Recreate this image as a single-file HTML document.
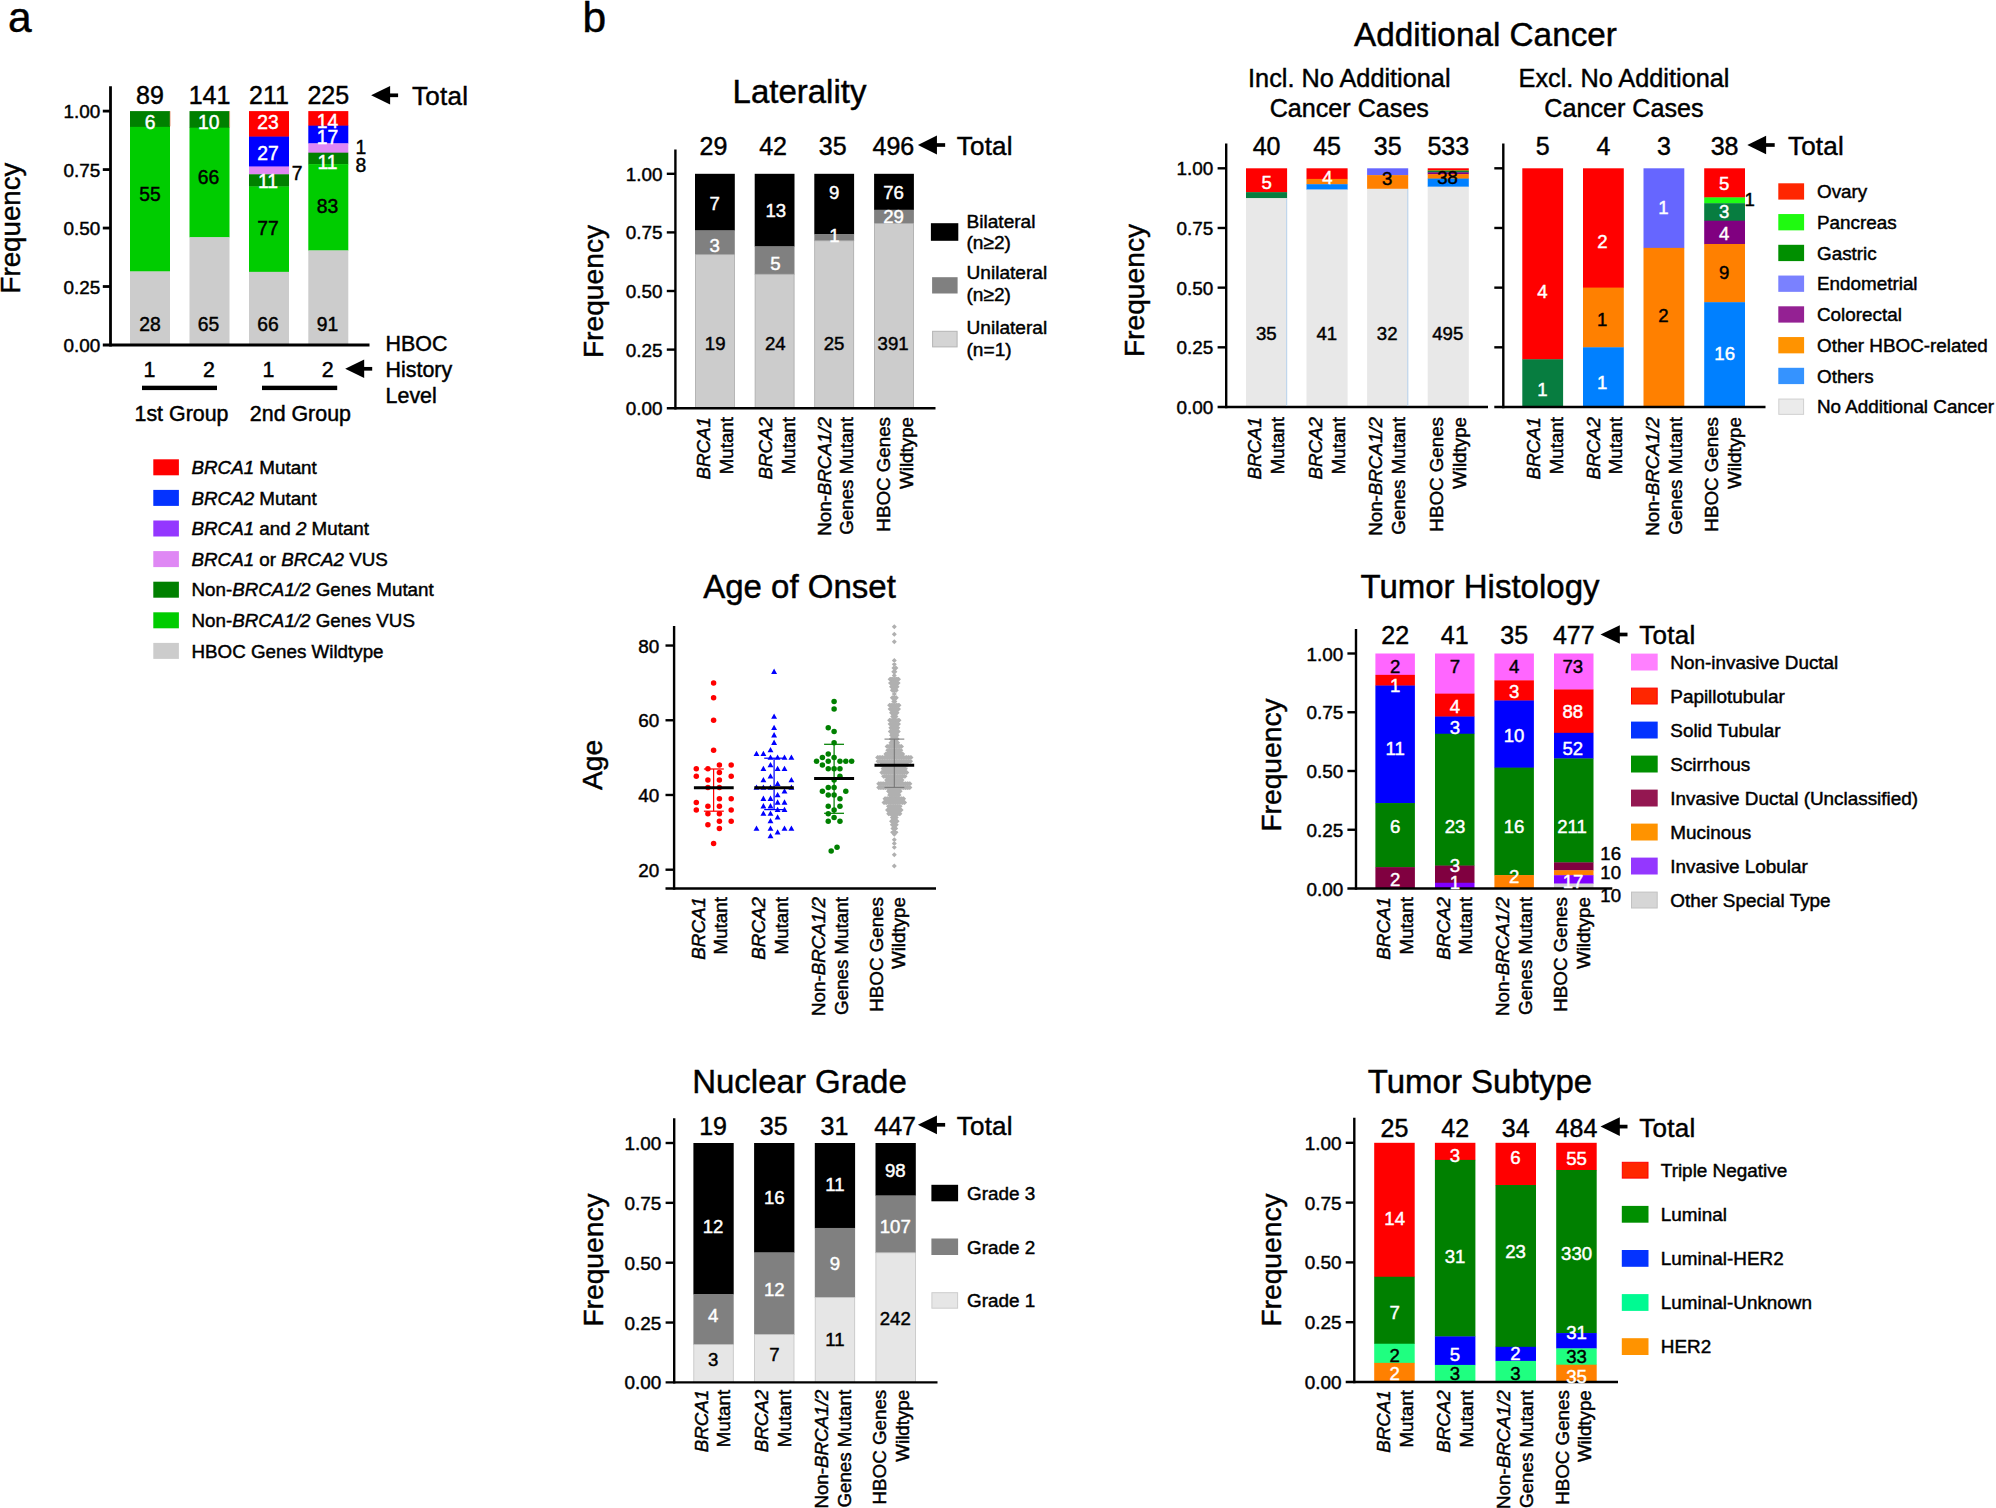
<!DOCTYPE html>
<html lang="en">
<head>
<meta charset="utf-8">
<title>HBOC gene status and clinical features</title>
<style>
html,body{margin:0;padding:0;background:#fff;}
body{width:1996px;height:1508px;overflow:hidden;}
svg{display:block;font-family:'Liberation Sans', Arial, Helvetica, sans-serif;}
text{stroke:#000;stroke-width:.45px;}
text.w{fill:#fff;stroke:#fff;}
</style>
</head>
<body>
<svg width="1996" height="1508" viewBox="0 0 1996 1508">
<rect width="1996" height="1508" fill="#fff"/>
<rect x="130" y="111.1" width="40" height="16.07" fill="#008000"/>
<rect x="130" y="126.87" width="40" height="144.84" fill="#00cc00"/>
<rect x="130" y="271.41" width="40" height="73.89" fill="#cccccc"/>
<rect x="189.5" y="111.1" width="40" height="16.89" fill="#008000"/>
<rect x="189.5" y="127.69" width="40" height="109.79" fill="#00cc00"/>
<rect x="189.5" y="237.17" width="40" height="108.13" fill="#cccccc"/>
<rect x="249" y="111.1" width="40" height="25.8" fill="#ff0000"/>
<rect x="249" y="136.6" width="40" height="30.23" fill="#0000ff"/>
<rect x="249" y="166.53" width="40" height="8.06" fill="#df88f4"/>
<rect x="249" y="174.29" width="40" height="12.49" fill="#008000"/>
<rect x="249" y="186.48" width="40" height="85.66" fill="#00cc00"/>
<rect x="249" y="271.84" width="40" height="73.46" fill="#cccccc"/>
<rect x="308.3" y="111.1" width="40" height="14.85" fill="#ff0000"/>
<rect x="308.3" y="125.65" width="40" height="17.97" fill="#0000ff"/>
<rect x="308.3" y="143.33" width="40" height="9.66" fill="#df88f4"/>
<rect x="308.3" y="152.68" width="40" height="11.74" fill="#008000"/>
<rect x="308.3" y="164.12" width="40" height="86.58" fill="#00cc00"/>
<rect x="308.3" y="250.4" width="40" height="94.9" fill="#cccccc"/>
<rect x="695" y="173.8" width="39.8" height="56.88" fill="#000000"/>
<rect x="695" y="230.38" width="39.8" height="24.55" fill="#808080"/>
<rect x="695.4" y="254.63" width="39" height="153.57" fill="#cccccc" stroke="#a9a9a9" stroke-width="0.8"/>
<rect x="754.7" y="173.8" width="39.8" height="72.85" fill="#000000"/>
<rect x="754.7" y="246.35" width="39.8" height="28.2" fill="#808080"/>
<rect x="755.1" y="274.26" width="39" height="133.94" fill="#cccccc" stroke="#a9a9a9" stroke-width="0.8"/>
<rect x="814.3" y="173.8" width="39.8" height="60.57" fill="#000000"/>
<rect x="814.3" y="234.07" width="39.8" height="7" fill="#808080"/>
<rect x="814.7" y="240.77" width="39" height="167.43" fill="#cccccc" stroke="#a9a9a9" stroke-width="0.8"/>
<rect x="874.1" y="173.8" width="39.8" height="36.22" fill="#000000"/>
<rect x="874.1" y="209.72" width="39.8" height="14" fill="#808080"/>
<rect x="874.5" y="223.42" width="39" height="184.78" fill="#cccccc" stroke="#a9a9a9" stroke-width="0.8"/>
<rect x="1246" y="168.3" width="41.1" height="24.17" fill="#ff0000"/>
<rect x="1246" y="192.17" width="41.1" height="6.27" fill="#077d40"/>
<rect x="1246" y="198.14" width="41.1" height="209.16" fill="#e8e8e8"/>
<rect x="1306.5" y="168.3" width="41.1" height="10.91" fill="#ff0000"/>
<rect x="1306.5" y="178.91" width="41.1" height="5.6" fill="#ff8000"/>
<rect x="1306.5" y="184.21" width="41.1" height="5.6" fill="#0080ff"/>
<rect x="1306.5" y="189.52" width="41.1" height="217.78" fill="#e8e8e8"/>
<rect x="1367.1" y="168.3" width="41.1" height="7.12" fill="#6666ff"/>
<rect x="1367.1" y="175.12" width="41.1" height="13.94" fill="#ff8000"/>
<rect x="1367.1" y="188.76" width="41.1" height="218.54" fill="#e8e8e8"/>
<rect x="1427.7" y="168.3" width="41.1" height="2.54" fill="#ff0000"/>
<rect x="1427.7" y="170.54" width="41.1" height="0.75" fill="#1ffd14"/>
<rect x="1427.7" y="170.99" width="41.1" height="1.64" fill="#077d40"/>
<rect x="1427.7" y="172.33" width="41.1" height="2.09" fill="#800080"/>
<rect x="1427.7" y="174.12" width="41.1" height="4.78" fill="#ff8000"/>
<rect x="1427.7" y="178.6" width="41.1" height="8.36" fill="#0080ff"/>
<rect x="1427.7" y="186.66" width="41.1" height="220.64" fill="#e8e8e8"/>
<rect x="1522.3" y="168.3" width="40.8" height="191.26" fill="#ff0000"/>
<rect x="1522.3" y="359.26" width="40.8" height="48.04" fill="#077d40"/>
<rect x="1583" y="168.3" width="40.8" height="119.65" fill="#ff0000"/>
<rect x="1583" y="287.65" width="40.8" height="59.97" fill="#ff8000"/>
<rect x="1583" y="347.32" width="40.8" height="59.97" fill="#0080ff"/>
<rect x="1643.5" y="168.3" width="40.8" height="79.87" fill="#6666ff"/>
<rect x="1643.5" y="247.87" width="40.8" height="159.43" fill="#ff8000"/>
<rect x="1704.2" y="168.3" width="40.8" height="29.41" fill="#ff0000"/>
<rect x="1704.2" y="197.41" width="40.8" height="6.12" fill="#1ffd14"/>
<rect x="1704.2" y="203.23" width="40.8" height="17.77" fill="#077d40"/>
<rect x="1704.2" y="220.7" width="40.8" height="23.59" fill="#800080"/>
<rect x="1704.2" y="243.99" width="40.8" height="58.52" fill="#ff8000"/>
<rect x="1704.2" y="302.2" width="40.8" height="105.1" fill="#0080ff"/>
<rect x="1375.4" y="653.5" width="39.5" height="21.66" fill="#ff66ff"/>
<rect x="1375.4" y="674.86" width="39.5" height="10.98" fill="#ff0000"/>
<rect x="1375.4" y="685.55" width="39.5" height="117.8" fill="#0000ff"/>
<rect x="1375.4" y="803.05" width="39.5" height="64.39" fill="#008000"/>
<rect x="1375.4" y="867.14" width="39.5" height="21.66" fill="#800040"/>
<rect x="1435" y="653.5" width="39.5" height="40.42" fill="#ff66ff"/>
<rect x="1435" y="693.62" width="39.5" height="23.23" fill="#ff0000"/>
<rect x="1435" y="716.55" width="39.5" height="17.5" fill="#0000ff"/>
<rect x="1435" y="733.74" width="39.5" height="132.13" fill="#008000"/>
<rect x="1435" y="865.57" width="39.5" height="17.5" fill="#800040"/>
<rect x="1435" y="882.77" width="39.5" height="6.03" fill="#8000ff"/>
<rect x="1494.4" y="653.5" width="39.5" height="27.16" fill="#ff66ff"/>
<rect x="1494.4" y="680.36" width="39.5" height="20.44" fill="#ff0000"/>
<rect x="1494.4" y="700.5" width="39.5" height="67.44" fill="#0000ff"/>
<rect x="1494.4" y="767.64" width="39.5" height="107.73" fill="#008000"/>
<rect x="1494.4" y="875.07" width="39.5" height="13.73" fill="#ff8000"/>
<rect x="1554" y="653.5" width="39.5" height="36.26" fill="#ff66ff"/>
<rect x="1554" y="689.46" width="39.5" height="43.65" fill="#ff0000"/>
<rect x="1554" y="732.82" width="39.5" height="25.92" fill="#0000ff"/>
<rect x="1554" y="758.44" width="39.5" height="104.25" fill="#008000"/>
<rect x="1554" y="862.39" width="39.5" height="8.18" fill="#800040"/>
<rect x="1554" y="870.27" width="39.5" height="5.23" fill="#ff8000"/>
<rect x="1554" y="875.2" width="39.5" height="8.68" fill="#8000ff"/>
<rect x="1554" y="883.57" width="39.5" height="5.23" fill="#d2d2d2"/>
<rect x="693.4" y="1143" width="40.3" height="151.5" fill="#000000"/>
<rect x="693.4" y="1294.2" width="40.3" height="50.7" fill="#808080"/>
<rect x="693.8" y="1344.6" width="39.5" height="37.8" fill="#e6e6e6" stroke="#c2c2c2" stroke-width="0.8"/>
<rect x="754.1" y="1143" width="40.3" height="109.74" fill="#000000"/>
<rect x="754.1" y="1252.44" width="40.3" height="82.38" fill="#808080"/>
<rect x="754.5" y="1334.52" width="39.5" height="47.88" fill="#e6e6e6" stroke="#c2c2c2" stroke-width="0.8"/>
<rect x="814.8" y="1143" width="40.3" height="85.25" fill="#000000"/>
<rect x="814.8" y="1227.95" width="40.3" height="69.8" fill="#808080"/>
<rect x="815.2" y="1297.45" width="39.5" height="84.95" fill="#e6e6e6" stroke="#c2c2c2" stroke-width="0.8"/>
<rect x="875.5" y="1143" width="40.3" height="52.79" fill="#000000"/>
<rect x="875.5" y="1195.49" width="40.3" height="57.61" fill="#808080"/>
<rect x="875.9" y="1252.79" width="39.5" height="129.61" fill="#e6e6e6" stroke="#c2c2c2" stroke-width="0.8"/>
<rect x="1374.2" y="1142.8" width="40.5" height="134.25" fill="#ff0000"/>
<rect x="1374.2" y="1276.75" width="40.5" height="67.28" fill="#008000"/>
<rect x="1374.2" y="1343.73" width="40.5" height="19.44" fill="#1fff80"/>
<rect x="1374.2" y="1362.86" width="40.5" height="19.44" fill="#ff8000"/>
<rect x="1434.9" y="1142.8" width="40.5" height="17.39" fill="#ff0000"/>
<rect x="1434.9" y="1159.89" width="40.5" height="176.85" fill="#008000"/>
<rect x="1434.9" y="1336.44" width="40.5" height="28.78" fill="#0000ff"/>
<rect x="1434.9" y="1364.91" width="40.5" height="17.39" fill="#1fff80"/>
<rect x="1495.5" y="1142.8" width="40.5" height="42.51" fill="#ff0000"/>
<rect x="1495.5" y="1185.01" width="40.5" height="162.11" fill="#008000"/>
<rect x="1495.5" y="1346.82" width="40.5" height="14.37" fill="#0000ff"/>
<rect x="1495.5" y="1360.89" width="40.5" height="21.41" fill="#1fff80"/>
<rect x="1556.2" y="1142.8" width="40.5" height="27.48" fill="#ff0000"/>
<rect x="1556.2" y="1169.98" width="40.5" height="163.39" fill="#008000"/>
<rect x="1556.2" y="1333.07" width="40.5" height="15.62" fill="#0000ff"/>
<rect x="1556.2" y="1348.39" width="40.5" height="16.61" fill="#1fff80"/>
<rect x="1556.2" y="1364.7" width="40.5" height="17.6" fill="#ff8000"/>
<line x1="110.5" y1="86.2" x2="110.5" y2="346.4" stroke="#000" stroke-width="2.8"/>
<line x1="102.8" y1="345" x2="369.5" y2="345" stroke="#000" stroke-width="2.8"/>
<line x1="102.8" y1="111.1" x2="110.5" y2="111.1" stroke="#000" stroke-width="2.8"/>
<line x1="102.8" y1="169.57" x2="110.5" y2="169.57" stroke="#000" stroke-width="2.8"/>
<line x1="102.8" y1="228.05" x2="110.5" y2="228.05" stroke="#000" stroke-width="2.8"/>
<line x1="102.8" y1="286.52" x2="110.5" y2="286.52" stroke="#000" stroke-width="2.8"/>
<line x1="675.4" y1="149.4" x2="675.4" y2="409.4" stroke="#000" stroke-width="2.4"/>
<line x1="666.8" y1="408.2" x2="935.5" y2="408.2" stroke="#000" stroke-width="2.4"/>
<line x1="666.8" y1="173.8" x2="675.4" y2="173.8" stroke="#000" stroke-width="2.4"/>
<line x1="666.8" y1="232.4" x2="675.4" y2="232.4" stroke="#000" stroke-width="2.4"/>
<line x1="666.8" y1="291" x2="675.4" y2="291" stroke="#000" stroke-width="2.4"/>
<line x1="666.8" y1="349.6" x2="675.4" y2="349.6" stroke="#000" stroke-width="2.4"/>
<line x1="1226.2" y1="143.4" x2="1226.2" y2="408.2" stroke="#000" stroke-width="2.4"/>
<line x1="1217.6" y1="407" x2="1488" y2="407" stroke="#000" stroke-width="2.4"/>
<line x1="1217.6" y1="168.3" x2="1226.2" y2="168.3" stroke="#000" stroke-width="2.4"/>
<line x1="1217.6" y1="227.98" x2="1226.2" y2="227.98" stroke="#000" stroke-width="2.4"/>
<line x1="1217.6" y1="287.65" x2="1226.2" y2="287.65" stroke="#000" stroke-width="2.4"/>
<line x1="1217.6" y1="347.32" x2="1226.2" y2="347.32" stroke="#000" stroke-width="2.4"/>
<line x1="1503.3" y1="143.4" x2="1503.3" y2="408.2" stroke="#000" stroke-width="2.4"/>
<line x1="1494.3" y1="407" x2="1765.5" y2="407" stroke="#000" stroke-width="2.4"/>
<line x1="1494.3" y1="168.3" x2="1503.3" y2="168.3" stroke="#000" stroke-width="2.4"/>
<line x1="1494.3" y1="227.98" x2="1503.3" y2="227.98" stroke="#000" stroke-width="2.4"/>
<line x1="1494.3" y1="287.65" x2="1503.3" y2="287.65" stroke="#000" stroke-width="2.4"/>
<line x1="1494.3" y1="347.32" x2="1503.3" y2="347.32" stroke="#000" stroke-width="2.4"/>
<line x1="674.1" y1="625.9" x2="674.1" y2="889.7" stroke="#000" stroke-width="2.4"/>
<line x1="665.5" y1="888.5" x2="936" y2="888.5" stroke="#000" stroke-width="2.4"/>
<line x1="665.5" y1="645.54" x2="674.1" y2="645.54" stroke="#000" stroke-width="2.4"/>
<line x1="665.5" y1="720.26" x2="674.1" y2="720.26" stroke="#000" stroke-width="2.4"/>
<line x1="665.5" y1="794.98" x2="674.1" y2="794.98" stroke="#000" stroke-width="2.4"/>
<line x1="665.5" y1="869.7" x2="674.1" y2="869.7" stroke="#000" stroke-width="2.4"/>
<line x1="1356" y1="629" x2="1356" y2="889.7" stroke="#000" stroke-width="2.4"/>
<line x1="1347.4" y1="888.5" x2="1612.3" y2="888.5" stroke="#000" stroke-width="2.4"/>
<line x1="1347.4" y1="653.5" x2="1356" y2="653.5" stroke="#000" stroke-width="2.4"/>
<line x1="1347.4" y1="712.25" x2="1356" y2="712.25" stroke="#000" stroke-width="2.4"/>
<line x1="1347.4" y1="771" x2="1356" y2="771" stroke="#000" stroke-width="2.4"/>
<line x1="1347.4" y1="829.75" x2="1356" y2="829.75" stroke="#000" stroke-width="2.4"/>
<line x1="674.2" y1="1118.2" x2="674.2" y2="1383.6" stroke="#000" stroke-width="2.4"/>
<line x1="665.6" y1="1382.4" x2="937.5" y2="1382.4" stroke="#000" stroke-width="2.4"/>
<line x1="665.6" y1="1143" x2="674.2" y2="1143" stroke="#000" stroke-width="2.4"/>
<line x1="665.6" y1="1202.85" x2="674.2" y2="1202.85" stroke="#000" stroke-width="2.4"/>
<line x1="665.6" y1="1262.7" x2="674.2" y2="1262.7" stroke="#000" stroke-width="2.4"/>
<line x1="665.6" y1="1322.55" x2="674.2" y2="1322.55" stroke="#000" stroke-width="2.4"/>
<line x1="1354.3" y1="1117.7" x2="1354.3" y2="1383.2" stroke="#000" stroke-width="2.4"/>
<line x1="1345.7" y1="1382" x2="1618" y2="1382" stroke="#000" stroke-width="2.4"/>
<line x1="1345.7" y1="1142.8" x2="1354.3" y2="1142.8" stroke="#000" stroke-width="2.4"/>
<line x1="1345.7" y1="1202.6" x2="1354.3" y2="1202.6" stroke="#000" stroke-width="2.4"/>
<line x1="1345.7" y1="1262.4" x2="1354.3" y2="1262.4" stroke="#000" stroke-width="2.4"/>
<line x1="1345.7" y1="1322.2" x2="1354.3" y2="1322.2" stroke="#000" stroke-width="2.4"/>
<text x="8" y="31.5" font-size="42.5">a</text>
<text x="582.5" y="31.5" font-size="42.5">b</text>
<text x="100.4" y="118.19" font-size="18.9" text-anchor="end">1.00</text>
<text x="100.4" y="176.66" font-size="18.9" text-anchor="end">0.75</text>
<text x="100.4" y="235.14" font-size="18.9" text-anchor="end">0.50</text>
<text x="100.4" y="293.61" font-size="18.9" text-anchor="end">0.25</text>
<text x="100.4" y="352.09" font-size="18.9" text-anchor="end">0.00</text>
<text x="150" y="104" font-size="25" text-anchor="middle">89</text>
<text x="209.5" y="104" font-size="25" text-anchor="middle">141</text>
<text x="269" y="104" font-size="25" text-anchor="middle">211</text>
<text x="328.3" y="104" font-size="25" text-anchor="middle">225</text>
<text x="150.1" y="128.69" font-size="19.3" text-anchor="middle" class="w">6</text>
<text x="150.1" y="201.29" font-size="19.3" text-anchor="middle">55</text>
<text x="150.1" y="331.19" font-size="19.3" text-anchor="middle">28</text>
<text x="208.8" y="128.69" font-size="19.3" text-anchor="middle" class="w">10</text>
<text x="208.6" y="184.39" font-size="19.3" text-anchor="middle">66</text>
<text x="208.6" y="331.19" font-size="19.3" text-anchor="middle">65</text>
<text x="268" y="128.69" font-size="19.3" text-anchor="middle" class="w">23</text>
<text x="268" y="159.59" font-size="19.3" text-anchor="middle" class="w">27</text>
<text x="268" y="188.49" font-size="19.3" text-anchor="middle" class="w">11</text>
<text x="268" y="235.49" font-size="19.3" text-anchor="middle">77</text>
<text x="268" y="331.19" font-size="19.3" text-anchor="middle">66</text>
<text x="297.2" y="179.99" font-size="19.3" text-anchor="middle">7</text>
<text x="327.5" y="128.39" font-size="19.3" text-anchor="middle" class="w">14</text>
<text x="327.5" y="143.59" font-size="19.3" text-anchor="middle" class="w">17</text>
<text x="327.5" y="169.39" font-size="19.3" text-anchor="middle" class="w">11</text>
<text x="327.5" y="212.69" font-size="19.3" text-anchor="middle">83</text>
<text x="327.5" y="331.19" font-size="19.3" text-anchor="middle">91</text>
<text x="360.9" y="153.59" font-size="19.3" text-anchor="middle">1</text>
<text x="360.9" y="171.79" font-size="19.3" text-anchor="middle">8</text>
<line x1="170.2" y1="111.2" x2="170.2" y2="126.3" stroke="#e9967a" stroke-width="0.7"/>
<line x1="229.6" y1="111.2" x2="229.6" y2="127.3" stroke="#e9967a" stroke-width="0.7"/>
<polygon points="371.1,95.3 390.1,86 390.1,104.6" fill="#000"/>
<line x1="389.1" y1="95.3" x2="398.1" y2="95.3" stroke="#000" stroke-width="3.7"/>
<text x="412" y="104.6" font-size="26" letter-spacing="0.25">Total</text>
<text x="20.3" y="228" font-size="27.7" text-anchor="middle" transform="rotate(-90 20.3 228)">Frequency</text>
<text x="149.5" y="376.5" font-size="21.4" text-anchor="middle">1</text>
<text x="209" y="376.5" font-size="21.4" text-anchor="middle">2</text>
<text x="268.5" y="376.5" font-size="21.4" text-anchor="middle">1</text>
<text x="327.8" y="376.5" font-size="21.4" text-anchor="middle">2</text>
<rect x="142" y="385.7" width="75" height="4.4" fill="#000"/>
<rect x="262" y="385.7" width="75.2" height="4.4" fill="#000"/>
<text x="181.5" y="421.2" font-size="21.4" text-anchor="middle">1st Group</text>
<text x="300.4" y="421.2" font-size="21.4" text-anchor="middle">2nd Group</text>
<text x="385.6" y="351" font-size="21.4">HBOC</text>
<text x="385.6" y="376.5" font-size="21.4">History</text>
<text x="385.6" y="403.2" font-size="21.4">Level</text>
<polygon points="345.2,368.8 364.2,359.5 364.2,378.1" fill="#000"/>
<line x1="363.2" y1="368.8" x2="372.2" y2="368.8" stroke="#000" stroke-width="3.7"/>
<rect x="153.3" y="459.3" width="25.6" height="16" fill="#ff0000"/>
<text x="191.5" y="474.03" font-size="18.8"><tspan font-style="italic">BRCA1</tspan> Mutant</text>
<rect x="153.3" y="489.9" width="25.6" height="16" fill="#0433ff"/>
<text x="191.5" y="504.63" font-size="18.8"><tspan font-style="italic">BRCA2</tspan> Mutant</text>
<rect x="153.3" y="520.5" width="25.6" height="16" fill="#9437ff"/>
<text x="191.5" y="535.23" font-size="18.8"><tspan font-style="italic">BRCA1</tspan> and <tspan font-style="italic">2</tspan> Mutant</text>
<rect x="153.3" y="551.1" width="25.6" height="16" fill="#df88f4"/>
<text x="191.5" y="565.83" font-size="18.8"><tspan font-style="italic">BRCA1</tspan> or <tspan font-style="italic">BRCA2</tspan> VUS</text>
<rect x="153.3" y="581.7" width="25.6" height="16" fill="#008000"/>
<text x="191.5" y="596.43" font-size="18.8">Non-<tspan font-style="italic">BRCA1/2</tspan> Genes Mutant</text>
<rect x="153.3" y="612.3" width="25.6" height="16" fill="#00cc00"/>
<text x="191.5" y="627.03" font-size="18.8">Non-<tspan font-style="italic">BRCA1/2</tspan> Genes VUS</text>
<rect x="153.3" y="642.9" width="25.6" height="16" fill="#cccccc"/>
<text x="191.5" y="657.63" font-size="18.8">HBOC Genes Wildtype</text>
<text x="799.5" y="102.5" font-size="33" text-anchor="middle">Laterality</text>
<text x="662.6" y="180.89" font-size="18.9" text-anchor="end">1.00</text>
<text x="662.6" y="239.49" font-size="18.9" text-anchor="end">0.75</text>
<text x="662.6" y="298.09" font-size="18.9" text-anchor="end">0.50</text>
<text x="662.6" y="356.69" font-size="18.9" text-anchor="end">0.25</text>
<text x="662.6" y="415.29" font-size="18.9" text-anchor="end">0.00</text>
<text x="713.4" y="154.6" font-size="25" text-anchor="middle">29</text>
<text x="773.1" y="154.6" font-size="25" text-anchor="middle">42</text>
<text x="832.7" y="154.6" font-size="25" text-anchor="middle">35</text>
<text x="893.4" y="154.6" font-size="25" text-anchor="middle">496</text>
<text x="714.6" y="210.14" font-size="18.6" text-anchor="middle" class="w">7</text>
<text x="714.6" y="251.84" font-size="18.6" text-anchor="middle" class="w">3</text>
<text x="715.2" y="349.94" font-size="18.6" text-anchor="middle">19</text>
<text x="775.8" y="216.94" font-size="18.6" text-anchor="middle" class="w">13</text>
<text x="775.4" y="269.64" font-size="18.6" text-anchor="middle" class="w">5</text>
<text x="775.3" y="349.94" font-size="18.6" text-anchor="middle">24</text>
<text x="834.1" y="199.34" font-size="18.6" text-anchor="middle" class="w">9</text>
<text x="834.4" y="241.64" font-size="18.6" text-anchor="middle" class="w">1</text>
<text x="834.1" y="349.94" font-size="18.6" text-anchor="middle">25</text>
<text x="893.5" y="199.44" font-size="18.6" text-anchor="middle" class="w">76</text>
<text x="893.5" y="223.34" font-size="18.6" text-anchor="middle" class="w">29</text>
<text x="893.1" y="349.94" font-size="18.6" text-anchor="middle">391</text>
<polygon points="917.9,145 936.95,135.6 936.95,154.4" fill="#000"/>
<line x1="935.95" y1="145" x2="945.15" y2="145" stroke="#000" stroke-width="3.7"/>
<text x="956.7" y="154.8" font-size="26" letter-spacing="0.25">Total</text>
<text x="603" y="291.5" font-size="28.2" text-anchor="middle" transform="rotate(-90 603 291.5)">Frequency</text>
<text x="710.2" y="417" font-size="18.75" text-anchor="end" transform="rotate(-90 710.2 417)"><tspan font-style="italic">BRCA1</tspan></text>
<text x="732.8" y="417" font-size="18.75" text-anchor="end" transform="rotate(-90 732.8 417)">Mutant</text>
<text x="771.8" y="417" font-size="18.75" text-anchor="end" transform="rotate(-90 771.8 417)"><tspan font-style="italic">BRCA2</tspan></text>
<text x="794.6" y="417" font-size="18.75" text-anchor="end" transform="rotate(-90 794.6 417)">Mutant</text>
<text x="830.8" y="417" font-size="18.75" text-anchor="end" transform="rotate(-90 830.8 417)">Non-<tspan font-style="italic">BRCA1/2</tspan></text>
<text x="853.2" y="417" font-size="18.75" text-anchor="end" transform="rotate(-90 853.2 417)">Genes Mutant</text>
<text x="889.7" y="417" font-size="18.75" text-anchor="end" transform="rotate(-90 889.7 417)">HBOC Genes</text>
<text x="912.5" y="417" font-size="18.75" text-anchor="end" transform="rotate(-90 912.5 417)">Wildtype</text>
<rect x="930.9" y="223.2" width="27.4" height="17.6" fill="#000000"/>
<text x="966.5" y="227.6" font-size="19.1">Bilateral</text>
<text x="966.5" y="249.3" font-size="19.1">(n≥2)</text>
<rect x="932.1" y="277.2" width="25.5" height="16.3" fill="#808080"/>
<text x="966.5" y="278.7" font-size="19.1">Unilateral</text>
<text x="966.5" y="300.7" font-size="19.1">(n≥2)</text>
<rect x="932.6" y="331.3" width="24.5" height="15.6" fill="#d4d4d4" stroke="#b4b4b4" stroke-width="1"/>
<text x="966.5" y="334.2" font-size="19.1">Unilateral</text>
<text x="966.5" y="356.1" font-size="19.1">(n=1)</text>
<text x="1485.5" y="45.5" font-size="33.3" text-anchor="middle">Additional Cancer</text>
<text x="1349.3" y="86.5" font-size="25.3" text-anchor="middle">Incl. No Additional</text>
<text x="1349.3" y="116.5" font-size="25.15" text-anchor="middle">Cancer Cases</text>
<text x="1624" y="86.6" font-size="25.3" text-anchor="middle">Excl. No Additional</text>
<text x="1624" y="116.6" font-size="25.15" text-anchor="middle">Cancer Cases</text>
<text x="1213.4" y="175.39" font-size="18.9" text-anchor="end">1.00</text>
<text x="1213.4" y="235.06" font-size="18.9" text-anchor="end">0.75</text>
<text x="1213.4" y="294.74" font-size="18.9" text-anchor="end">0.50</text>
<text x="1213.4" y="354.41" font-size="18.9" text-anchor="end">0.25</text>
<text x="1213.4" y="414.09" font-size="18.9" text-anchor="end">0.00</text>
<line x1="1286.7" y1="198.5" x2="1286.7" y2="406" stroke="#a9cbee" stroke-width="0.8"/>
<line x1="1407.8" y1="189" x2="1407.8" y2="406" stroke="#a9cbee" stroke-width="0.8"/>
<text x="1266.55" y="155" font-size="25" text-anchor="middle">40</text>
<text x="1327.05" y="155" font-size="25" text-anchor="middle">45</text>
<text x="1387.65" y="155" font-size="25" text-anchor="middle">35</text>
<text x="1448.25" y="155" font-size="25" text-anchor="middle">533</text>
<text x="1266.7" y="188.94" font-size="18.6" text-anchor="middle" class="w">5</text>
<text x="1327.5" y="183.74" font-size="18.6" text-anchor="middle" class="w">4</text>
<text x="1387.2" y="184.54" font-size="18.6" text-anchor="middle">3</text>
<text x="1447.6" y="183.84" font-size="18.6" text-anchor="middle">38</text>
<text x="1266.3" y="339.84" font-size="18.6" text-anchor="middle">35</text>
<text x="1326.8" y="339.84" font-size="18.6" text-anchor="middle">41</text>
<text x="1387.2" y="339.84" font-size="18.6" text-anchor="middle">32</text>
<text x="1447.8" y="339.84" font-size="18.6" text-anchor="middle">495</text>
<text x="1144" y="290.5" font-size="28.2" text-anchor="middle" transform="rotate(-90 1144 290.5)">Frequency</text>
<text x="1261.3" y="417" font-size="18.75" text-anchor="end" transform="rotate(-90 1261.3 417)"><tspan font-style="italic">BRCA1</tspan></text>
<text x="1283.7" y="417" font-size="18.75" text-anchor="end" transform="rotate(-90 1283.7 417)">Mutant</text>
<text x="1321.8" y="417" font-size="18.75" text-anchor="end" transform="rotate(-90 1321.8 417)"><tspan font-style="italic">BRCA2</tspan></text>
<text x="1344.6" y="417" font-size="18.75" text-anchor="end" transform="rotate(-90 1344.6 417)">Mutant</text>
<text x="1382.4" y="417" font-size="18.75" text-anchor="end" transform="rotate(-90 1382.4 417)">Non-<tspan font-style="italic">BRCA1/2</tspan></text>
<text x="1405.2" y="417" font-size="18.75" text-anchor="end" transform="rotate(-90 1405.2 417)">Genes Mutant</text>
<text x="1443" y="417" font-size="18.75" text-anchor="end" transform="rotate(-90 1443 417)">HBOC Genes</text>
<text x="1465.5" y="417" font-size="18.75" text-anchor="end" transform="rotate(-90 1465.5 417)">Wildtype</text>
<text x="1542.7" y="155" font-size="25" text-anchor="middle">5</text>
<text x="1603.4" y="155" font-size="25" text-anchor="middle">4</text>
<text x="1663.9" y="155" font-size="25" text-anchor="middle">3</text>
<text x="1724.6" y="155" font-size="25" text-anchor="middle">38</text>
<text x="1542.4" y="298.44" font-size="18.6" text-anchor="middle" class="w">4</text>
<text x="1542.4" y="395.74" font-size="18.6" text-anchor="middle" class="w">1</text>
<text x="1602.4" y="248.04" font-size="18.6" text-anchor="middle" class="w">2</text>
<text x="1602.2" y="325.94" font-size="18.6" text-anchor="middle">1</text>
<text x="1602.2" y="388.94" font-size="18.6" text-anchor="middle" class="w">1</text>
<text x="1663.4" y="213.84" font-size="18.6" text-anchor="middle" class="w">1</text>
<text x="1663.4" y="321.84" font-size="18.6" text-anchor="middle">2</text>
<text x="1724.2" y="189.54" font-size="18.6" text-anchor="middle" class="w">5</text>
<text x="1724.2" y="218.04" font-size="18.6" text-anchor="middle" class="w">3</text>
<text x="1724.2" y="239.74" font-size="18.6" text-anchor="middle" class="w">4</text>
<text x="1724.2" y="279.34" font-size="18.6" text-anchor="middle">9</text>
<text x="1724.7" y="359.64" font-size="18.6" text-anchor="middle" class="w">16</text>
<text x="1749.6" y="205.64" font-size="18.6" text-anchor="middle">1</text>
<polygon points="1747.3,145 1766.1,135.7 1766.1,154.3" fill="#000"/>
<line x1="1765.1" y1="145" x2="1774.7" y2="145" stroke="#000" stroke-width="3.7"/>
<text x="1787.9" y="154.7" font-size="26" letter-spacing="0.25">Total</text>
<text x="1540.2" y="417" font-size="18.75" text-anchor="end" transform="rotate(-90 1540.2 417)"><tspan font-style="italic">BRCA1</tspan></text>
<text x="1562.8" y="417" font-size="18.75" text-anchor="end" transform="rotate(-90 1562.8 417)">Mutant</text>
<text x="1599.6" y="417" font-size="18.75" text-anchor="end" transform="rotate(-90 1599.6 417)"><tspan font-style="italic">BRCA2</tspan></text>
<text x="1622" y="417" font-size="18.75" text-anchor="end" transform="rotate(-90 1622 417)">Mutant</text>
<text x="1658.9" y="417" font-size="18.75" text-anchor="end" transform="rotate(-90 1658.9 417)">Non-<tspan font-style="italic">BRCA1/2</tspan></text>
<text x="1681.7" y="417" font-size="18.75" text-anchor="end" transform="rotate(-90 1681.7 417)">Genes Mutant</text>
<text x="1718.4" y="417" font-size="18.75" text-anchor="end" transform="rotate(-90 1718.4 417)">HBOC Genes</text>
<text x="1741.2" y="417" font-size="18.75" text-anchor="end" transform="rotate(-90 1741.2 417)">Wildtype</text>
<rect x="1778.3" y="183.3" width="25.8" height="16.3" fill="#ff2600"/>
<text x="1817" y="198.2" font-size="18.85">Ovary</text>
<rect x="1778.3" y="214.05" width="25.8" height="16.3" fill="#1ffa10"/>
<text x="1817" y="228.95" font-size="18.85">Pancreas</text>
<rect x="1778.3" y="244.8" width="25.8" height="16.3" fill="#008f00"/>
<text x="1817" y="259.7" font-size="18.85">Gastric</text>
<rect x="1778.3" y="275.55" width="25.8" height="16.3" fill="#7a81ff"/>
<text x="1817" y="290.45" font-size="18.85">Endometrial</text>
<rect x="1778.3" y="306.3" width="25.8" height="16.3" fill="#942193"/>
<text x="1817" y="321.2" font-size="18.85">Colorectal</text>
<rect x="1778.3" y="337.05" width="25.8" height="16.3" fill="#ff9300"/>
<text x="1817" y="351.95" font-size="18.85">Other HBOC-related</text>
<rect x="1778.3" y="367.8" width="25.8" height="16.3" fill="#3593ff"/>
<text x="1817" y="382.7" font-size="18.85">Others</text>
<rect x="1778.8" y="399.05" width="24.8" height="15.3" fill="#ebebeb" stroke="#d0d0d0" stroke-width="1"/>
<text x="1817" y="413.45" font-size="18.85">No Additional Cancer</text>
<text x="799.5" y="598" font-size="33" text-anchor="middle">Age of Onset</text>
<text x="659.2" y="652.63" font-size="18.9" text-anchor="end">80</text>
<text x="659.2" y="727.35" font-size="18.9" text-anchor="end">60</text>
<text x="659.2" y="802.07" font-size="18.9" text-anchor="end">40</text>
<text x="659.2" y="876.79" font-size="18.9" text-anchor="end">20</text>
<text x="602" y="765" font-size="28.2" text-anchor="middle" transform="rotate(-90 602 765)">Age</text>
<rect x="890.1" y="677.21" width="8.4" height="3.9" fill="#b0b0b0"/>
<rect x="890.5" y="680.95" width="7.6" height="3.9" fill="#b0b0b0"/>
<rect x="891.5" y="684.69" width="5.6" height="3.9" fill="#b0b0b0"/>
<rect x="892.3" y="688.42" width="4" height="3.9" fill="#b0b0b0"/>
<rect x="892.3" y="695.89" width="4" height="3.9" fill="#b0b0b0"/>
<rect x="889.6" y="703.37" width="9.4" height="3.9" fill="#b0b0b0"/>
<rect x="890.1" y="707.1" width="8.4" height="3.9" fill="#b0b0b0"/>
<rect x="891.5" y="710.84" width="5.6" height="3.9" fill="#b0b0b0"/>
<rect x="892.6" y="714.57" width="3.4" height="3.9" fill="#b0b0b0"/>
<rect x="889.6" y="718.31" width="9.4" height="3.9" fill="#b0b0b0"/>
<rect x="890.1" y="722.05" width="8.4" height="3.9" fill="#b0b0b0"/>
<rect x="890.8" y="725.78" width="7" height="3.9" fill="#b0b0b0"/>
<rect x="890.3" y="729.52" width="8" height="3.9" fill="#b0b0b0"/>
<rect x="891.5" y="733.25" width="5.6" height="3.9" fill="#b0b0b0"/>
<rect x="891.3" y="736.99" width="6" height="3.9" fill="#b0b0b0"/>
<rect x="890.9" y="740.73" width="6.8" height="3.9" fill="#b0b0b0"/>
<rect x="887.1" y="744.46" width="14.4" height="3.9" fill="#b0b0b0"/>
<rect x="887.8" y="748.2" width="13" height="3.9" fill="#b0b0b0"/>
<rect x="885.9" y="751.93" width="16.8" height="3.9" fill="#b0b0b0"/>
<rect x="877.6" y="755.67" width="33.4" height="3.9" fill="#b0b0b0"/>
<rect x="878" y="759.41" width="32.6" height="3.9" fill="#b0b0b0"/>
<rect x="881.3" y="763.14" width="26" height="3.9" fill="#b0b0b0"/>
<rect x="883.2" y="766.88" width="22.2" height="3.9" fill="#b0b0b0"/>
<rect x="881.8" y="770.61" width="25" height="3.9" fill="#b0b0b0"/>
<rect x="883.6" y="774.35" width="21.4" height="3.9" fill="#b0b0b0"/>
<rect x="886.6" y="778.09" width="15.4" height="3.9" fill="#b0b0b0"/>
<rect x="878.7" y="781.82" width="31.2" height="3.9" fill="#b0b0b0"/>
<rect x="878.7" y="785.56" width="31.2" height="3.9" fill="#b0b0b0"/>
<rect x="888.5" y="789.29" width="11.6" height="3.9" fill="#b0b0b0"/>
<rect x="889.6" y="793.03" width="9.4" height="3.9" fill="#b0b0b0"/>
<rect x="885" y="796.77" width="18.6" height="3.9" fill="#b0b0b0"/>
<rect x="884" y="800.5" width="20.6" height="3.9" fill="#b0b0b0"/>
<rect x="888.5" y="804.24" width="11.6" height="3.9" fill="#b0b0b0"/>
<rect x="887.5" y="807.97" width="13.6" height="3.9" fill="#b0b0b0"/>
<rect x="888.7" y="811.71" width="11.2" height="3.9" fill="#b0b0b0"/>
<rect x="892.3" y="815.45" width="4" height="3.9" fill="#b0b0b0"/>
<rect x="891.5" y="819.18" width="5.6" height="3.9" fill="#b0b0b0"/>
<rect x="892.3" y="822.92" width="4" height="3.9" fill="#b0b0b0"/>
<rect x="892.9" y="826.65" width="2.8" height="3.9" fill="#b0b0b0"/>
<rect x="892.6" y="830.39" width="3.4" height="3.9" fill="#b0b0b0"/>
<path d="M894.3 624.36l2.5 2.5l-2.5 2.5l-2.5 -2.5zM894.3 631.83l2.5 2.5l-2.5 2.5l-2.5 -2.5zM894.3 639.3l2.5 2.5l-2.5 2.5l-2.5 -2.5zM894.3 657.98l2.5 2.5l-2.5 2.5l-2.5 -2.5zM894.3 661.72l2.5 2.5l-2.5 2.5l-2.5 -2.5zM893.9 665.46l2.5 2.5l-2.5 2.5l-2.5 -2.5zM895.9 665.46l2.5 2.5l-2.5 2.5l-2.5 -2.5zM893.7 669.19l2.5 2.5l-2.5 2.5l-2.5 -2.5zM894.9 669.19l2.5 2.5l-2.5 2.5l-2.5 -2.5zM894.3 672.93l2.5 2.5l-2.5 2.5l-2.5 -2.5zM890.1 676.66l2.5 2.5l-2.5 2.5l-2.5 -2.5zM892.2 676.66l2.5 2.5l-2.5 2.5l-2.5 -2.5zM894.3 676.66l2.5 2.5l-2.5 2.5l-2.5 -2.5zM896.4 676.66l2.5 2.5l-2.5 2.5l-2.5 -2.5zM898.5 676.66l2.5 2.5l-2.5 2.5l-2.5 -2.5zM890.5 680.4l2.5 2.5l-2.5 2.5l-2.5 -2.5zM892.4 680.4l2.5 2.5l-2.5 2.5l-2.5 -2.5zM894.3 680.4l2.5 2.5l-2.5 2.5l-2.5 -2.5zM896.2 680.4l2.5 2.5l-2.5 2.5l-2.5 -2.5zM898.1 680.4l2.5 2.5l-2.5 2.5l-2.5 -2.5zM891.5 684.14l2.5 2.5l-2.5 2.5l-2.5 -2.5zM893.37 684.14l2.5 2.5l-2.5 2.5l-2.5 -2.5zM895.23 684.14l2.5 2.5l-2.5 2.5l-2.5 -2.5zM897.1 684.14l2.5 2.5l-2.5 2.5l-2.5 -2.5zM892.3 687.87l2.5 2.5l-2.5 2.5l-2.5 -2.5zM894.3 687.87l2.5 2.5l-2.5 2.5l-2.5 -2.5zM896.3 687.87l2.5 2.5l-2.5 2.5l-2.5 -2.5zM894.3 691.61l2.5 2.5l-2.5 2.5l-2.5 -2.5zM892.3 695.34l2.5 2.5l-2.5 2.5l-2.5 -2.5zM894.3 695.34l2.5 2.5l-2.5 2.5l-2.5 -2.5zM896.3 695.34l2.5 2.5l-2.5 2.5l-2.5 -2.5zM893.7 699.08l2.5 2.5l-2.5 2.5l-2.5 -2.5zM894.9 699.08l2.5 2.5l-2.5 2.5l-2.5 -2.5zM889.6 702.82l2.5 2.5l-2.5 2.5l-2.5 -2.5zM891.95 702.82l2.5 2.5l-2.5 2.5l-2.5 -2.5zM894.3 702.82l2.5 2.5l-2.5 2.5l-2.5 -2.5zM896.65 702.82l2.5 2.5l-2.5 2.5l-2.5 -2.5zM899 702.82l2.5 2.5l-2.5 2.5l-2.5 -2.5zM890.1 706.55l2.5 2.5l-2.5 2.5l-2.5 -2.5zM892.2 706.55l2.5 2.5l-2.5 2.5l-2.5 -2.5zM894.3 706.55l2.5 2.5l-2.5 2.5l-2.5 -2.5zM896.4 706.55l2.5 2.5l-2.5 2.5l-2.5 -2.5zM898.5 706.55l2.5 2.5l-2.5 2.5l-2.5 -2.5zM891.5 710.29l2.5 2.5l-2.5 2.5l-2.5 -2.5zM893.37 710.29l2.5 2.5l-2.5 2.5l-2.5 -2.5zM895.23 710.29l2.5 2.5l-2.5 2.5l-2.5 -2.5zM897.1 710.29l2.5 2.5l-2.5 2.5l-2.5 -2.5zM892.6 714.02l2.5 2.5l-2.5 2.5l-2.5 -2.5zM894.3 714.02l2.5 2.5l-2.5 2.5l-2.5 -2.5zM896 714.02l2.5 2.5l-2.5 2.5l-2.5 -2.5zM889.6 717.76l2.5 2.5l-2.5 2.5l-2.5 -2.5zM891.95 717.76l2.5 2.5l-2.5 2.5l-2.5 -2.5zM894.3 717.76l2.5 2.5l-2.5 2.5l-2.5 -2.5zM896.65 717.76l2.5 2.5l-2.5 2.5l-2.5 -2.5zM899 717.76l2.5 2.5l-2.5 2.5l-2.5 -2.5zM890.1 721.5l2.5 2.5l-2.5 2.5l-2.5 -2.5zM892.2 721.5l2.5 2.5l-2.5 2.5l-2.5 -2.5zM894.3 721.5l2.5 2.5l-2.5 2.5l-2.5 -2.5zM896.4 721.5l2.5 2.5l-2.5 2.5l-2.5 -2.5zM898.5 721.5l2.5 2.5l-2.5 2.5l-2.5 -2.5zM890.8 725.23l2.5 2.5l-2.5 2.5l-2.5 -2.5zM893.13 725.23l2.5 2.5l-2.5 2.5l-2.5 -2.5zM895.47 725.23l2.5 2.5l-2.5 2.5l-2.5 -2.5zM897.8 725.23l2.5 2.5l-2.5 2.5l-2.5 -2.5zM890.3 728.97l2.5 2.5l-2.5 2.5l-2.5 -2.5zM892.3 728.97l2.5 2.5l-2.5 2.5l-2.5 -2.5zM894.3 728.97l2.5 2.5l-2.5 2.5l-2.5 -2.5zM896.3 728.97l2.5 2.5l-2.5 2.5l-2.5 -2.5zM898.3 728.97l2.5 2.5l-2.5 2.5l-2.5 -2.5zM891.5 732.7l2.5 2.5l-2.5 2.5l-2.5 -2.5zM893.37 732.7l2.5 2.5l-2.5 2.5l-2.5 -2.5zM895.23 732.7l2.5 2.5l-2.5 2.5l-2.5 -2.5zM897.1 732.7l2.5 2.5l-2.5 2.5l-2.5 -2.5zM891.3 736.44l2.5 2.5l-2.5 2.5l-2.5 -2.5zM893.3 736.44l2.5 2.5l-2.5 2.5l-2.5 -2.5zM895.3 736.44l2.5 2.5l-2.5 2.5l-2.5 -2.5zM897.3 736.44l2.5 2.5l-2.5 2.5l-2.5 -2.5zM890.9 740.18l2.5 2.5l-2.5 2.5l-2.5 -2.5zM893.17 740.18l2.5 2.5l-2.5 2.5l-2.5 -2.5zM895.43 740.18l2.5 2.5l-2.5 2.5l-2.5 -2.5zM897.7 740.18l2.5 2.5l-2.5 2.5l-2.5 -2.5zM887.1 743.91l2.5 2.5l-2.5 2.5l-2.5 -2.5zM889.5 743.91l2.5 2.5l-2.5 2.5l-2.5 -2.5zM891.9 743.91l2.5 2.5l-2.5 2.5l-2.5 -2.5zM894.3 743.91l2.5 2.5l-2.5 2.5l-2.5 -2.5zM896.7 743.91l2.5 2.5l-2.5 2.5l-2.5 -2.5zM899.1 743.91l2.5 2.5l-2.5 2.5l-2.5 -2.5zM901.5 743.91l2.5 2.5l-2.5 2.5l-2.5 -2.5zM887.8 747.65l2.5 2.5l-2.5 2.5l-2.5 -2.5zM889.97 747.65l2.5 2.5l-2.5 2.5l-2.5 -2.5zM892.13 747.65l2.5 2.5l-2.5 2.5l-2.5 -2.5zM894.3 747.65l2.5 2.5l-2.5 2.5l-2.5 -2.5zM896.47 747.65l2.5 2.5l-2.5 2.5l-2.5 -2.5zM898.63 747.65l2.5 2.5l-2.5 2.5l-2.5 -2.5zM900.8 747.65l2.5 2.5l-2.5 2.5l-2.5 -2.5zM885.9 751.38l2.5 2.5l-2.5 2.5l-2.5 -2.5zM888 751.38l2.5 2.5l-2.5 2.5l-2.5 -2.5zM890.1 751.38l2.5 2.5l-2.5 2.5l-2.5 -2.5zM892.2 751.38l2.5 2.5l-2.5 2.5l-2.5 -2.5zM894.3 751.38l2.5 2.5l-2.5 2.5l-2.5 -2.5zM896.4 751.38l2.5 2.5l-2.5 2.5l-2.5 -2.5zM898.5 751.38l2.5 2.5l-2.5 2.5l-2.5 -2.5zM900.6 751.38l2.5 2.5l-2.5 2.5l-2.5 -2.5zM902.7 751.38l2.5 2.5l-2.5 2.5l-2.5 -2.5zM877.6 755.12l2.5 2.5l-2.5 2.5l-2.5 -2.5zM879.99 755.12l2.5 2.5l-2.5 2.5l-2.5 -2.5zM882.37 755.12l2.5 2.5l-2.5 2.5l-2.5 -2.5zM884.76 755.12l2.5 2.5l-2.5 2.5l-2.5 -2.5zM887.14 755.12l2.5 2.5l-2.5 2.5l-2.5 -2.5zM889.53 755.12l2.5 2.5l-2.5 2.5l-2.5 -2.5zM891.91 755.12l2.5 2.5l-2.5 2.5l-2.5 -2.5zM894.3 755.12l2.5 2.5l-2.5 2.5l-2.5 -2.5zM896.69 755.12l2.5 2.5l-2.5 2.5l-2.5 -2.5zM899.07 755.12l2.5 2.5l-2.5 2.5l-2.5 -2.5zM901.46 755.12l2.5 2.5l-2.5 2.5l-2.5 -2.5zM903.84 755.12l2.5 2.5l-2.5 2.5l-2.5 -2.5zM906.23 755.12l2.5 2.5l-2.5 2.5l-2.5 -2.5zM908.61 755.12l2.5 2.5l-2.5 2.5l-2.5 -2.5zM911 755.12l2.5 2.5l-2.5 2.5l-2.5 -2.5zM878 758.86l2.5 2.5l-2.5 2.5l-2.5 -2.5zM880.33 758.86l2.5 2.5l-2.5 2.5l-2.5 -2.5zM882.66 758.86l2.5 2.5l-2.5 2.5l-2.5 -2.5zM884.99 758.86l2.5 2.5l-2.5 2.5l-2.5 -2.5zM887.31 758.86l2.5 2.5l-2.5 2.5l-2.5 -2.5zM889.64 758.86l2.5 2.5l-2.5 2.5l-2.5 -2.5zM891.97 758.86l2.5 2.5l-2.5 2.5l-2.5 -2.5zM894.3 758.86l2.5 2.5l-2.5 2.5l-2.5 -2.5zM896.63 758.86l2.5 2.5l-2.5 2.5l-2.5 -2.5zM898.96 758.86l2.5 2.5l-2.5 2.5l-2.5 -2.5zM901.29 758.86l2.5 2.5l-2.5 2.5l-2.5 -2.5zM903.61 758.86l2.5 2.5l-2.5 2.5l-2.5 -2.5zM905.94 758.86l2.5 2.5l-2.5 2.5l-2.5 -2.5zM908.27 758.86l2.5 2.5l-2.5 2.5l-2.5 -2.5zM910.6 758.86l2.5 2.5l-2.5 2.5l-2.5 -2.5zM881.3 762.59l2.5 2.5l-2.5 2.5l-2.5 -2.5zM883.66 762.59l2.5 2.5l-2.5 2.5l-2.5 -2.5zM886.03 762.59l2.5 2.5l-2.5 2.5l-2.5 -2.5zM888.39 762.59l2.5 2.5l-2.5 2.5l-2.5 -2.5zM890.75 762.59l2.5 2.5l-2.5 2.5l-2.5 -2.5zM893.12 762.59l2.5 2.5l-2.5 2.5l-2.5 -2.5zM895.48 762.59l2.5 2.5l-2.5 2.5l-2.5 -2.5zM897.85 762.59l2.5 2.5l-2.5 2.5l-2.5 -2.5zM900.21 762.59l2.5 2.5l-2.5 2.5l-2.5 -2.5zM902.57 762.59l2.5 2.5l-2.5 2.5l-2.5 -2.5zM904.94 762.59l2.5 2.5l-2.5 2.5l-2.5 -2.5zM907.3 762.59l2.5 2.5l-2.5 2.5l-2.5 -2.5zM883.2 766.33l2.5 2.5l-2.5 2.5l-2.5 -2.5zM885.42 766.33l2.5 2.5l-2.5 2.5l-2.5 -2.5zM887.64 766.33l2.5 2.5l-2.5 2.5l-2.5 -2.5zM889.86 766.33l2.5 2.5l-2.5 2.5l-2.5 -2.5zM892.08 766.33l2.5 2.5l-2.5 2.5l-2.5 -2.5zM894.3 766.33l2.5 2.5l-2.5 2.5l-2.5 -2.5zM896.52 766.33l2.5 2.5l-2.5 2.5l-2.5 -2.5zM898.74 766.33l2.5 2.5l-2.5 2.5l-2.5 -2.5zM900.96 766.33l2.5 2.5l-2.5 2.5l-2.5 -2.5zM903.18 766.33l2.5 2.5l-2.5 2.5l-2.5 -2.5zM905.4 766.33l2.5 2.5l-2.5 2.5l-2.5 -2.5zM881.8 770.06l2.5 2.5l-2.5 2.5l-2.5 -2.5zM884.07 770.06l2.5 2.5l-2.5 2.5l-2.5 -2.5zM886.35 770.06l2.5 2.5l-2.5 2.5l-2.5 -2.5zM888.62 770.06l2.5 2.5l-2.5 2.5l-2.5 -2.5zM890.89 770.06l2.5 2.5l-2.5 2.5l-2.5 -2.5zM893.16 770.06l2.5 2.5l-2.5 2.5l-2.5 -2.5zM895.44 770.06l2.5 2.5l-2.5 2.5l-2.5 -2.5zM897.71 770.06l2.5 2.5l-2.5 2.5l-2.5 -2.5zM899.98 770.06l2.5 2.5l-2.5 2.5l-2.5 -2.5zM902.25 770.06l2.5 2.5l-2.5 2.5l-2.5 -2.5zM904.53 770.06l2.5 2.5l-2.5 2.5l-2.5 -2.5zM906.8 770.06l2.5 2.5l-2.5 2.5l-2.5 -2.5zM883.6 773.8l2.5 2.5l-2.5 2.5l-2.5 -2.5zM885.98 773.8l2.5 2.5l-2.5 2.5l-2.5 -2.5zM888.36 773.8l2.5 2.5l-2.5 2.5l-2.5 -2.5zM890.73 773.8l2.5 2.5l-2.5 2.5l-2.5 -2.5zM893.11 773.8l2.5 2.5l-2.5 2.5l-2.5 -2.5zM895.49 773.8l2.5 2.5l-2.5 2.5l-2.5 -2.5zM897.87 773.8l2.5 2.5l-2.5 2.5l-2.5 -2.5zM900.24 773.8l2.5 2.5l-2.5 2.5l-2.5 -2.5zM902.62 773.8l2.5 2.5l-2.5 2.5l-2.5 -2.5zM905 773.8l2.5 2.5l-2.5 2.5l-2.5 -2.5zM886.6 777.54l2.5 2.5l-2.5 2.5l-2.5 -2.5zM888.8 777.54l2.5 2.5l-2.5 2.5l-2.5 -2.5zM891 777.54l2.5 2.5l-2.5 2.5l-2.5 -2.5zM893.2 777.54l2.5 2.5l-2.5 2.5l-2.5 -2.5zM895.4 777.54l2.5 2.5l-2.5 2.5l-2.5 -2.5zM897.6 777.54l2.5 2.5l-2.5 2.5l-2.5 -2.5zM899.8 777.54l2.5 2.5l-2.5 2.5l-2.5 -2.5zM902 777.54l2.5 2.5l-2.5 2.5l-2.5 -2.5zM878.7 781.27l2.5 2.5l-2.5 2.5l-2.5 -2.5zM880.93 781.27l2.5 2.5l-2.5 2.5l-2.5 -2.5zM883.16 781.27l2.5 2.5l-2.5 2.5l-2.5 -2.5zM885.39 781.27l2.5 2.5l-2.5 2.5l-2.5 -2.5zM887.61 781.27l2.5 2.5l-2.5 2.5l-2.5 -2.5zM889.84 781.27l2.5 2.5l-2.5 2.5l-2.5 -2.5zM892.07 781.27l2.5 2.5l-2.5 2.5l-2.5 -2.5zM894.3 781.27l2.5 2.5l-2.5 2.5l-2.5 -2.5zM896.53 781.27l2.5 2.5l-2.5 2.5l-2.5 -2.5zM898.76 781.27l2.5 2.5l-2.5 2.5l-2.5 -2.5zM900.99 781.27l2.5 2.5l-2.5 2.5l-2.5 -2.5zM903.21 781.27l2.5 2.5l-2.5 2.5l-2.5 -2.5zM905.44 781.27l2.5 2.5l-2.5 2.5l-2.5 -2.5zM907.67 781.27l2.5 2.5l-2.5 2.5l-2.5 -2.5zM909.9 781.27l2.5 2.5l-2.5 2.5l-2.5 -2.5zM878.7 785.01l2.5 2.5l-2.5 2.5l-2.5 -2.5zM880.93 785.01l2.5 2.5l-2.5 2.5l-2.5 -2.5zM883.16 785.01l2.5 2.5l-2.5 2.5l-2.5 -2.5zM885.39 785.01l2.5 2.5l-2.5 2.5l-2.5 -2.5zM887.61 785.01l2.5 2.5l-2.5 2.5l-2.5 -2.5zM889.84 785.01l2.5 2.5l-2.5 2.5l-2.5 -2.5zM892.07 785.01l2.5 2.5l-2.5 2.5l-2.5 -2.5zM894.3 785.01l2.5 2.5l-2.5 2.5l-2.5 -2.5zM896.53 785.01l2.5 2.5l-2.5 2.5l-2.5 -2.5zM898.76 785.01l2.5 2.5l-2.5 2.5l-2.5 -2.5zM900.99 785.01l2.5 2.5l-2.5 2.5l-2.5 -2.5zM903.21 785.01l2.5 2.5l-2.5 2.5l-2.5 -2.5zM905.44 785.01l2.5 2.5l-2.5 2.5l-2.5 -2.5zM907.67 785.01l2.5 2.5l-2.5 2.5l-2.5 -2.5zM909.9 785.01l2.5 2.5l-2.5 2.5l-2.5 -2.5zM888.5 788.74l2.5 2.5l-2.5 2.5l-2.5 -2.5zM890.82 788.74l2.5 2.5l-2.5 2.5l-2.5 -2.5zM893.14 788.74l2.5 2.5l-2.5 2.5l-2.5 -2.5zM895.46 788.74l2.5 2.5l-2.5 2.5l-2.5 -2.5zM897.78 788.74l2.5 2.5l-2.5 2.5l-2.5 -2.5zM900.1 788.74l2.5 2.5l-2.5 2.5l-2.5 -2.5zM889.6 792.48l2.5 2.5l-2.5 2.5l-2.5 -2.5zM891.95 792.48l2.5 2.5l-2.5 2.5l-2.5 -2.5zM894.3 792.48l2.5 2.5l-2.5 2.5l-2.5 -2.5zM896.65 792.48l2.5 2.5l-2.5 2.5l-2.5 -2.5zM899 792.48l2.5 2.5l-2.5 2.5l-2.5 -2.5zM885 796.22l2.5 2.5l-2.5 2.5l-2.5 -2.5zM887.33 796.22l2.5 2.5l-2.5 2.5l-2.5 -2.5zM889.65 796.22l2.5 2.5l-2.5 2.5l-2.5 -2.5zM891.98 796.22l2.5 2.5l-2.5 2.5l-2.5 -2.5zM894.3 796.22l2.5 2.5l-2.5 2.5l-2.5 -2.5zM896.62 796.22l2.5 2.5l-2.5 2.5l-2.5 -2.5zM898.95 796.22l2.5 2.5l-2.5 2.5l-2.5 -2.5zM901.27 796.22l2.5 2.5l-2.5 2.5l-2.5 -2.5zM903.6 796.22l2.5 2.5l-2.5 2.5l-2.5 -2.5zM884 799.95l2.5 2.5l-2.5 2.5l-2.5 -2.5zM886.29 799.95l2.5 2.5l-2.5 2.5l-2.5 -2.5zM888.58 799.95l2.5 2.5l-2.5 2.5l-2.5 -2.5zM890.87 799.95l2.5 2.5l-2.5 2.5l-2.5 -2.5zM893.16 799.95l2.5 2.5l-2.5 2.5l-2.5 -2.5zM895.44 799.95l2.5 2.5l-2.5 2.5l-2.5 -2.5zM897.73 799.95l2.5 2.5l-2.5 2.5l-2.5 -2.5zM900.02 799.95l2.5 2.5l-2.5 2.5l-2.5 -2.5zM902.31 799.95l2.5 2.5l-2.5 2.5l-2.5 -2.5zM904.6 799.95l2.5 2.5l-2.5 2.5l-2.5 -2.5zM888.5 803.69l2.5 2.5l-2.5 2.5l-2.5 -2.5zM890.82 803.69l2.5 2.5l-2.5 2.5l-2.5 -2.5zM893.14 803.69l2.5 2.5l-2.5 2.5l-2.5 -2.5zM895.46 803.69l2.5 2.5l-2.5 2.5l-2.5 -2.5zM897.78 803.69l2.5 2.5l-2.5 2.5l-2.5 -2.5zM900.1 803.69l2.5 2.5l-2.5 2.5l-2.5 -2.5zM887.5 807.42l2.5 2.5l-2.5 2.5l-2.5 -2.5zM889.77 807.42l2.5 2.5l-2.5 2.5l-2.5 -2.5zM892.03 807.42l2.5 2.5l-2.5 2.5l-2.5 -2.5zM894.3 807.42l2.5 2.5l-2.5 2.5l-2.5 -2.5zM896.57 807.42l2.5 2.5l-2.5 2.5l-2.5 -2.5zM898.83 807.42l2.5 2.5l-2.5 2.5l-2.5 -2.5zM901.1 807.42l2.5 2.5l-2.5 2.5l-2.5 -2.5zM888.7 811.16l2.5 2.5l-2.5 2.5l-2.5 -2.5zM890.94 811.16l2.5 2.5l-2.5 2.5l-2.5 -2.5zM893.18 811.16l2.5 2.5l-2.5 2.5l-2.5 -2.5zM895.42 811.16l2.5 2.5l-2.5 2.5l-2.5 -2.5zM897.66 811.16l2.5 2.5l-2.5 2.5l-2.5 -2.5zM899.9 811.16l2.5 2.5l-2.5 2.5l-2.5 -2.5zM892.3 814.9l2.5 2.5l-2.5 2.5l-2.5 -2.5zM894.3 814.9l2.5 2.5l-2.5 2.5l-2.5 -2.5zM896.3 814.9l2.5 2.5l-2.5 2.5l-2.5 -2.5zM891.5 818.63l2.5 2.5l-2.5 2.5l-2.5 -2.5zM893.37 818.63l2.5 2.5l-2.5 2.5l-2.5 -2.5zM895.23 818.63l2.5 2.5l-2.5 2.5l-2.5 -2.5zM897.1 818.63l2.5 2.5l-2.5 2.5l-2.5 -2.5zM892.3 822.37l2.5 2.5l-2.5 2.5l-2.5 -2.5zM894.3 822.37l2.5 2.5l-2.5 2.5l-2.5 -2.5zM896.3 822.37l2.5 2.5l-2.5 2.5l-2.5 -2.5zM892.9 826.1l2.5 2.5l-2.5 2.5l-2.5 -2.5zM894.3 826.1l2.5 2.5l-2.5 2.5l-2.5 -2.5zM895.7 826.1l2.5 2.5l-2.5 2.5l-2.5 -2.5zM892.6 829.84l2.5 2.5l-2.5 2.5l-2.5 -2.5zM894.3 829.84l2.5 2.5l-2.5 2.5l-2.5 -2.5zM896 829.84l2.5 2.5l-2.5 2.5l-2.5 -2.5zM894.3 831.71l2.5 2.5l-2.5 2.5l-2.5 -2.5zM894.3 837.31l2.5 2.5l-2.5 2.5l-2.5 -2.5zM894.3 841.05l2.5 2.5l-2.5 2.5l-2.5 -2.5zM894.3 844.78l2.5 2.5l-2.5 2.5l-2.5 -2.5zM894.3 852.26l2.5 2.5l-2.5 2.5l-2.5 -2.5zM894.3 863.46l2.5 2.5l-2.5 2.5l-2.5 -2.5z" fill="#b0b0b0"/>
<line x1="894.3" y1="739.1" x2="894.3" y2="787.4" stroke="#757575" stroke-width="1"/>
<line x1="884.5" y1="739.1" x2="904.3" y2="739.1" stroke="#757575" stroke-width="1"/>
<line x1="884.5" y1="787.4" x2="904.3" y2="787.4" stroke="#757575" stroke-width="1"/>
<line x1="874.5" y1="765.3" x2="914.2" y2="765.3" stroke="#000" stroke-width="3"/>
<circle cx="713.6" cy="682.9" r="2.75" fill="#ff0000"/>
<circle cx="713.6" cy="697.84" r="2.75" fill="#ff0000"/>
<circle cx="713.6" cy="720.26" r="2.75" fill="#ff0000"/>
<circle cx="713.6" cy="750.15" r="2.75" fill="#ff0000"/>
<circle cx="719.4" cy="765.09" r="2.75" fill="#ff0000"/>
<circle cx="731.2" cy="765.09" r="2.75" fill="#ff0000"/>
<circle cx="696.3" cy="768.83" r="2.75" fill="#ff0000"/>
<circle cx="707.9" cy="768.83" r="2.75" fill="#ff0000"/>
<circle cx="719.4" cy="772.56" r="2.75" fill="#ff0000"/>
<circle cx="696.3" cy="776.3" r="2.75" fill="#ff0000"/>
<circle cx="731.2" cy="776.3" r="2.75" fill="#ff0000"/>
<circle cx="707.9" cy="780.04" r="2.75" fill="#ff0000"/>
<circle cx="719.4" cy="780.04" r="2.75" fill="#ff0000"/>
<circle cx="707.9" cy="787.51" r="2.75" fill="#ff0000"/>
<circle cx="719.4" cy="787.51" r="2.75" fill="#ff0000"/>
<circle cx="719.4" cy="798.72" r="2.75" fill="#ff0000"/>
<circle cx="731.2" cy="798.72" r="2.75" fill="#ff0000"/>
<circle cx="696.3" cy="802.45" r="2.75" fill="#ff0000"/>
<circle cx="707.9" cy="806.19" r="2.75" fill="#ff0000"/>
<circle cx="719.4" cy="806.19" r="2.75" fill="#ff0000"/>
<circle cx="696.3" cy="809.92" r="2.75" fill="#ff0000"/>
<circle cx="731.2" cy="809.92" r="2.75" fill="#ff0000"/>
<circle cx="707.9" cy="813.66" r="2.75" fill="#ff0000"/>
<circle cx="719.4" cy="813.66" r="2.75" fill="#ff0000"/>
<circle cx="719.4" cy="821.13" r="2.75" fill="#ff0000"/>
<circle cx="731.2" cy="821.13" r="2.75" fill="#ff0000"/>
<circle cx="707.9" cy="824.87" r="2.75" fill="#ff0000"/>
<circle cx="719.4" cy="828.6" r="2.75" fill="#ff0000"/>
<circle cx="713.6" cy="843.55" r="2.75" fill="#ff0000"/>
<line x1="713.6" y1="769" x2="713.6" y2="811.2" stroke="#ff0000" stroke-width="1.25"/>
<line x1="703.9" y1="769" x2="723.8" y2="769" stroke="#ff0000" stroke-width="1.25"/>
<line x1="703.9" y1="811.2" x2="723.8" y2="811.2" stroke="#ff0000" stroke-width="1.25"/>
<line x1="693.9" y1="787.8" x2="733.7" y2="787.8" stroke="#000" stroke-width="3"/>
<path d="M774.1 668.59l2.95 5.3h-5.9zM774.1 713.42l2.95 5.3h-5.9zM774.1 724.63l2.95 5.3h-5.9zM774.1 732.1l2.95 5.3h-5.9zM774.1 739.58l2.95 5.3h-5.9zM770.5 747.05l2.95 5.3h-5.9zM756.5 750.78l2.95 5.3h-5.9zM763.4 750.78l2.95 5.3h-5.9zM770.5 754.52l2.95 5.3h-5.9zM777.6 754.52l2.95 5.3h-5.9zM784.5 754.52l2.95 5.3h-5.9zM791.4 754.52l2.95 5.3h-5.9zM770.5 761.99l2.95 5.3h-5.9zM763.4 765.73l2.95 5.3h-5.9zM777.6 765.73l2.95 5.3h-5.9zM784.5 765.73l2.95 5.3h-5.9zM770.5 773.2l2.95 5.3h-5.9zM763.4 776.94l2.95 5.3h-5.9zM791.4 776.94l2.95 5.3h-5.9zM777.6 780.67l2.95 5.3h-5.9zM756.5 784.41l2.95 5.3h-5.9zM763.4 784.41l2.95 5.3h-5.9zM770.5 784.41l2.95 5.3h-5.9zM791.4 784.41l2.95 5.3h-5.9zM784.5 788.14l2.95 5.3h-5.9zM777.6 791.88l2.95 5.3h-5.9zM763.4 795.62l2.95 5.3h-5.9zM770.5 795.62l2.95 5.3h-5.9zM777.6 799.35l2.95 5.3h-5.9zM784.5 799.35l2.95 5.3h-5.9zM763.4 803.09l2.95 5.3h-5.9zM770.5 803.09l2.95 5.3h-5.9zM777.6 806.82l2.95 5.3h-5.9zM784.5 806.82l2.95 5.3h-5.9zM763.4 810.56l2.95 5.3h-5.9zM770.5 810.56l2.95 5.3h-5.9zM777.6 814.3l2.95 5.3h-5.9zM770.5 818.03l2.95 5.3h-5.9zM756.5 825.5l2.95 5.3h-5.9zM770.5 825.5l2.95 5.3h-5.9zM784.5 825.5l2.95 5.3h-5.9zM791.4 825.5l2.95 5.3h-5.9zM777.6 829.24l2.95 5.3h-5.9zM770.5 832.98l2.95 5.3h-5.9z" fill="#0000ff"/>
<line x1="774.1" y1="758.2" x2="774.1" y2="809.6" stroke="#0000ff" stroke-width="1.25"/>
<line x1="764.2" y1="758.2" x2="784.8" y2="758.2" stroke="#0000ff" stroke-width="1.25"/>
<line x1="764.2" y1="809.6" x2="784.8" y2="809.6" stroke="#0000ff" stroke-width="1.25"/>
<line x1="754.3" y1="787.8" x2="793.8" y2="787.8" stroke="#000" stroke-width="3"/>
<circle cx="834.1" cy="701.58" r="2.75" fill="#008000"/>
<circle cx="834.1" cy="709.05" r="2.75" fill="#008000"/>
<circle cx="828.25" cy="727.73" r="2.75" fill="#008000"/>
<circle cx="834.1" cy="731.47" r="2.75" fill="#008000"/>
<circle cx="834.1" cy="742.68" r="2.75" fill="#008000"/>
<circle cx="828.25" cy="753.88" r="2.75" fill="#008000"/>
<circle cx="822.4" cy="757.62" r="2.75" fill="#008000"/>
<circle cx="834.1" cy="757.62" r="2.75" fill="#008000"/>
<circle cx="816.55" cy="761.36" r="2.75" fill="#008000"/>
<circle cx="828.25" cy="761.36" r="2.75" fill="#008000"/>
<circle cx="839.95" cy="761.36" r="2.75" fill="#008000"/>
<circle cx="845.8" cy="761.36" r="2.75" fill="#008000"/>
<circle cx="851.65" cy="761.36" r="2.75" fill="#008000"/>
<circle cx="822.4" cy="765.09" r="2.75" fill="#008000"/>
<circle cx="828.25" cy="768.83" r="2.75" fill="#008000"/>
<circle cx="834.1" cy="768.83" r="2.75" fill="#008000"/>
<circle cx="839.95" cy="768.83" r="2.75" fill="#008000"/>
<circle cx="839.95" cy="776.3" r="2.75" fill="#008000"/>
<circle cx="834.1" cy="780.04" r="2.75" fill="#008000"/>
<circle cx="828.25" cy="787.51" r="2.75" fill="#008000"/>
<circle cx="834.1" cy="787.51" r="2.75" fill="#008000"/>
<circle cx="822.4" cy="791.24" r="2.75" fill="#008000"/>
<circle cx="845.8" cy="791.24" r="2.75" fill="#008000"/>
<circle cx="828.25" cy="794.98" r="2.75" fill="#008000"/>
<circle cx="834.1" cy="794.98" r="2.75" fill="#008000"/>
<circle cx="839.95" cy="798.72" r="2.75" fill="#008000"/>
<circle cx="828.25" cy="806.19" r="2.75" fill="#008000"/>
<circle cx="839.95" cy="806.19" r="2.75" fill="#008000"/>
<circle cx="834.1" cy="809.92" r="2.75" fill="#008000"/>
<circle cx="828.25" cy="813.66" r="2.75" fill="#008000"/>
<circle cx="834.1" cy="817.4" r="2.75" fill="#008000"/>
<circle cx="828.25" cy="821.13" r="2.75" fill="#008000"/>
<circle cx="839.95" cy="821.13" r="2.75" fill="#008000"/>
<circle cx="837.02" cy="847.28" r="2.75" fill="#008000"/>
<circle cx="831.18" cy="851.02" r="2.75" fill="#008000"/>
<line x1="834.1" y1="744.3" x2="834.1" y2="813.3" stroke="#008000" stroke-width="1.25"/>
<line x1="824.1" y1="744.3" x2="844" y2="744.3" stroke="#008000" stroke-width="1.25"/>
<line x1="824.1" y1="813.3" x2="844" y2="813.3" stroke="#008000" stroke-width="1.25"/>
<line x1="814.1" y1="778.4" x2="854.1" y2="778.4" stroke="#000" stroke-width="3"/>
<text x="704.7" y="897.1" font-size="18.75" text-anchor="end" transform="rotate(-90 704.7 897.1)"><tspan font-style="italic">BRCA1</tspan></text>
<text x="727.2" y="897.1" font-size="18.75" text-anchor="end" transform="rotate(-90 727.2 897.1)">Mutant</text>
<text x="765.3" y="897.1" font-size="18.75" text-anchor="end" transform="rotate(-90 765.3 897.1)"><tspan font-style="italic">BRCA2</tspan></text>
<text x="787.9" y="897.1" font-size="18.75" text-anchor="end" transform="rotate(-90 787.9 897.1)">Mutant</text>
<text x="825.2" y="897.1" font-size="18.75" text-anchor="end" transform="rotate(-90 825.2 897.1)">Non-<tspan font-style="italic">BRCA1/2</tspan></text>
<text x="848" y="897.1" font-size="18.75" text-anchor="end" transform="rotate(-90 848 897.1)">Genes Mutant</text>
<text x="882.6" y="897.1" font-size="18.75" text-anchor="end" transform="rotate(-90 882.6 897.1)">HBOC Genes</text>
<text x="905.4" y="897.1" font-size="18.75" text-anchor="end" transform="rotate(-90 905.4 897.1)">Wildtype</text>
<text x="1480" y="598" font-size="33" text-anchor="middle">Tumor Histology</text>
<text x="1343.2" y="660.59" font-size="18.9" text-anchor="end">1.00</text>
<text x="1343.2" y="719.34" font-size="18.9" text-anchor="end">0.75</text>
<text x="1343.2" y="778.09" font-size="18.9" text-anchor="end">0.50</text>
<text x="1343.2" y="836.84" font-size="18.9" text-anchor="end">0.25</text>
<text x="1343.2" y="895.59" font-size="18.9" text-anchor="end">0.00</text>
<text x="1395.15" y="644" font-size="25" text-anchor="middle">22</text>
<text x="1454.75" y="644" font-size="25" text-anchor="middle">41</text>
<text x="1514.15" y="644" font-size="25" text-anchor="middle">35</text>
<text x="1573.75" y="644" font-size="25" text-anchor="middle">477</text>
<text x="1395.2" y="673.04" font-size="18.6" text-anchor="middle">2</text>
<text x="1395.2" y="691.84" font-size="18.6" text-anchor="middle" class="w">1</text>
<text x="1395.2" y="755.24" font-size="18.6" text-anchor="middle" class="w">11</text>
<text x="1395.2" y="832.54" font-size="18.6" text-anchor="middle" class="w">6</text>
<text x="1395.2" y="885.64" font-size="18.6" text-anchor="middle" class="w">2</text>
<text x="1455" y="673.04" font-size="18.6" text-anchor="middle">7</text>
<text x="1455" y="713.04" font-size="18.6" text-anchor="middle" class="w">4</text>
<text x="1455" y="733.54" font-size="18.6" text-anchor="middle" class="w">3</text>
<text x="1455" y="832.54" font-size="18.6" text-anchor="middle" class="w">23</text>
<text x="1455" y="871.64" font-size="18.6" text-anchor="middle" class="w">3</text>
<text x="1455" y="889.04" font-size="18.6" text-anchor="middle" class="w">1</text>
<text x="1514.1" y="673.04" font-size="18.6" text-anchor="middle">4</text>
<text x="1514.1" y="697.64" font-size="18.6" text-anchor="middle" class="w">3</text>
<text x="1514.1" y="741.64" font-size="18.6" text-anchor="middle" class="w">10</text>
<text x="1514.1" y="832.54" font-size="18.6" text-anchor="middle" class="w">16</text>
<text x="1514.1" y="883.04" font-size="18.6" text-anchor="middle" class="w">2</text>
<text x="1572.8" y="673.04" font-size="18.6" text-anchor="middle">73</text>
<text x="1572.8" y="718.34" font-size="18.6" text-anchor="middle" class="w">88</text>
<text x="1572.8" y="754.54" font-size="18.6" text-anchor="middle" class="w">52</text>
<text x="1572" y="832.54" font-size="18.6" text-anchor="middle" class="w">211</text>
<text x="1573.1" y="888.24" font-size="18.6" text-anchor="middle" class="w">17</text>
<text x="1610.7" y="859.54" font-size="18.6" text-anchor="middle">16</text>
<text x="1610.7" y="879.44" font-size="18.6" text-anchor="middle">10</text>
<text x="1610.7" y="901.64" font-size="18.6" text-anchor="middle">10</text>
<polygon points="1600.5,634.5 1619.8,625.2 1619.8,643.8" fill="#000"/>
<line x1="1618.8" y1="634.5" x2="1627.5" y2="634.5" stroke="#000" stroke-width="3.7"/>
<text x="1639.3" y="644.2" font-size="26" letter-spacing="0.25">Total</text>
<text x="1281" y="765" font-size="28.2" text-anchor="middle" transform="rotate(-90 1281 765)">Frequency</text>
<text x="1390.2" y="897.1" font-size="18.75" text-anchor="end" transform="rotate(-90 1390.2 897.1)"><tspan font-style="italic">BRCA1</tspan></text>
<text x="1412.8" y="897.1" font-size="18.75" text-anchor="end" transform="rotate(-90 1412.8 897.1)">Mutant</text>
<text x="1449.6" y="897.1" font-size="18.75" text-anchor="end" transform="rotate(-90 1449.6 897.1)"><tspan font-style="italic">BRCA2</tspan></text>
<text x="1472" y="897.1" font-size="18.75" text-anchor="end" transform="rotate(-90 1472 897.1)">Mutant</text>
<text x="1508.9" y="897.1" font-size="18.75" text-anchor="end" transform="rotate(-90 1508.9 897.1)">Non-<tspan font-style="italic">BRCA1/2</tspan></text>
<text x="1531.9" y="897.1" font-size="18.75" text-anchor="end" transform="rotate(-90 1531.9 897.1)">Genes Mutant</text>
<text x="1567.1" y="897.1" font-size="18.75" text-anchor="end" transform="rotate(-90 1567.1 897.1)">HBOC Genes</text>
<text x="1589.7" y="897.1" font-size="18.75" text-anchor="end" transform="rotate(-90 1589.7 897.1)">Wildtype</text>
<rect x="1631" y="653.6" width="26.7" height="16.9" fill="#ff80ff"/>
<text x="1670.3" y="668.82" font-size="18.9">Non-invasive Ductal</text>
<rect x="1631.5" y="688.1" width="25.7" height="15.9" fill="#ff2600" stroke="#ff0000" stroke-width="1"/>
<text x="1670.3" y="702.82" font-size="18.9">Papillotubular</text>
<rect x="1631" y="721.6" width="26.7" height="16.9" fill="#0433ff"/>
<text x="1670.3" y="736.82" font-size="18.9">Solid Tubular</text>
<rect x="1631" y="755.6" width="26.7" height="16.9" fill="#008f00"/>
<text x="1670.3" y="770.82" font-size="18.9">Scirrhous</text>
<rect x="1631" y="789.6" width="26.7" height="16.9" fill="#941751"/>
<text x="1670.3" y="804.82" font-size="18.9">Invasive Ductal (Unclassified)</text>
<rect x="1631" y="823.6" width="26.7" height="16.9" fill="#ff9300"/>
<text x="1670.3" y="838.82" font-size="18.9">Mucinous</text>
<rect x="1631" y="857.6" width="26.7" height="16.9" fill="#9437ff"/>
<text x="1670.3" y="872.82" font-size="18.9">Invasive Lobular</text>
<rect x="1631.5" y="892.1" width="25.7" height="15.9" fill="#d6d6d6" stroke="#c2c2c2" stroke-width="1"/>
<text x="1670.3" y="906.82" font-size="18.9">Other Special Type</text>
<text x="799.5" y="1093" font-size="33" text-anchor="middle">Nuclear Grade</text>
<text x="661.4" y="1150.09" font-size="18.9" text-anchor="end">1.00</text>
<text x="661.4" y="1209.94" font-size="18.9" text-anchor="end">0.75</text>
<text x="661.4" y="1269.79" font-size="18.9" text-anchor="end">0.50</text>
<text x="661.4" y="1329.64" font-size="18.9" text-anchor="end">0.25</text>
<text x="661.4" y="1389.49" font-size="18.9" text-anchor="end">0.00</text>
<text x="713.05" y="1135" font-size="25" text-anchor="middle">19</text>
<text x="773.75" y="1135" font-size="25" text-anchor="middle">35</text>
<text x="834.45" y="1135" font-size="25" text-anchor="middle">31</text>
<text x="895.15" y="1135" font-size="25" text-anchor="middle">447</text>
<text x="713.1" y="1233.04" font-size="18.6" text-anchor="middle" class="w">12</text>
<text x="713.1" y="1321.84" font-size="18.6" text-anchor="middle" class="w">4</text>
<text x="713.1" y="1366.14" font-size="18.6" text-anchor="middle">3</text>
<text x="774.3" y="1204.24" font-size="18.6" text-anchor="middle" class="w">16</text>
<text x="774.3" y="1295.94" font-size="18.6" text-anchor="middle" class="w">12</text>
<text x="774.3" y="1361.44" font-size="18.6" text-anchor="middle">7</text>
<text x="835" y="1191.14" font-size="18.6" text-anchor="middle" class="w">11</text>
<text x="835" y="1270.04" font-size="18.6" text-anchor="middle" class="w">9</text>
<text x="835" y="1346.34" font-size="18.6" text-anchor="middle">11</text>
<text x="895.3" y="1176.94" font-size="18.6" text-anchor="middle" class="w">98</text>
<text x="895.3" y="1232.64" font-size="18.6" text-anchor="middle" class="w">107</text>
<text x="895.3" y="1324.74" font-size="18.6" text-anchor="middle">242</text>
<polygon points="917.9,1124.8 936.95,1115.4 936.95,1134.2" fill="#000"/>
<line x1="935.95" y1="1124.8" x2="945.15" y2="1124.8" stroke="#000" stroke-width="3.7"/>
<text x="956.7" y="1134.9" font-size="26" letter-spacing="0.25">Total</text>
<text x="603" y="1260" font-size="28.2" text-anchor="middle" transform="rotate(-90 603 1260)">Frequency</text>
<text x="707.6" y="1389.8" font-size="18.75" text-anchor="end" transform="rotate(-90 707.6 1389.8)"><tspan font-style="italic">BRCA1</tspan></text>
<text x="730.2" y="1389.8" font-size="18.75" text-anchor="end" transform="rotate(-90 730.2 1389.8)">Mutant</text>
<text x="768.3" y="1389.8" font-size="18.75" text-anchor="end" transform="rotate(-90 768.3 1389.8)"><tspan font-style="italic">BRCA2</tspan></text>
<text x="791" y="1389.8" font-size="18.75" text-anchor="end" transform="rotate(-90 791 1389.8)">Mutant</text>
<text x="827.8" y="1389.8" font-size="18.75" text-anchor="end" transform="rotate(-90 827.8 1389.8)">Non-<tspan font-style="italic">BRCA1/2</tspan></text>
<text x="850.6" y="1389.8" font-size="18.75" text-anchor="end" transform="rotate(-90 850.6 1389.8)">Genes Mutant</text>
<text x="885.8" y="1389.8" font-size="18.75" text-anchor="end" transform="rotate(-90 885.8 1389.8)">HBOC Genes</text>
<text x="908.6" y="1389.8" font-size="18.75" text-anchor="end" transform="rotate(-90 908.6 1389.8)">Wildtype</text>
<rect x="931.4" y="1184.8" width="26.7" height="16.5" fill="#000000"/>
<text x="967" y="1199.82" font-size="18.9">Grade 3</text>
<rect x="931.4" y="1238.5" width="26.7" height="16.5" fill="#808080"/>
<text x="967" y="1253.52" font-size="18.9">Grade 2</text>
<rect x="931.9" y="1292.7" width="25.7" height="15.5" fill="#e6e6e6" stroke="#cdcdcd" stroke-width="1"/>
<text x="967" y="1307.22" font-size="18.9">Grade 1</text>
<text x="1480" y="1093" font-size="33" text-anchor="middle">Tumor Subtype</text>
<text x="1341.5" y="1149.89" font-size="18.9" text-anchor="end">1.00</text>
<text x="1341.5" y="1209.69" font-size="18.9" text-anchor="end">0.75</text>
<text x="1341.5" y="1269.49" font-size="18.9" text-anchor="end">0.50</text>
<text x="1341.5" y="1329.29" font-size="18.9" text-anchor="end">0.25</text>
<text x="1341.5" y="1389.09" font-size="18.9" text-anchor="end">0.00</text>
<text x="1394.45" y="1136.8" font-size="25" text-anchor="middle">25</text>
<text x="1455.15" y="1136.8" font-size="25" text-anchor="middle">42</text>
<text x="1515.75" y="1136.8" font-size="25" text-anchor="middle">34</text>
<text x="1576.45" y="1136.8" font-size="25" text-anchor="middle">484</text>
<text x="1394.7" y="1224.74" font-size="18.6" text-anchor="middle" class="w">14</text>
<text x="1394.7" y="1319.24" font-size="18.6" text-anchor="middle" class="w">7</text>
<text x="1394.7" y="1361.64" font-size="18.6" text-anchor="middle">2</text>
<text x="1394.7" y="1379.94" font-size="18.6" text-anchor="middle" class="w">2</text>
<text x="1455" y="1161.64" font-size="18.6" text-anchor="middle" class="w">3</text>
<text x="1455" y="1263.24" font-size="18.6" text-anchor="middle" class="w">31</text>
<text x="1455" y="1360.94" font-size="18.6" text-anchor="middle" class="w">5</text>
<text x="1455" y="1380.44" font-size="18.6" text-anchor="middle">3</text>
<text x="1515.5" y="1164.24" font-size="18.6" text-anchor="middle" class="w">6</text>
<text x="1515.5" y="1257.54" font-size="18.6" text-anchor="middle" class="w">23</text>
<text x="1515.5" y="1359.94" font-size="18.6" text-anchor="middle" class="w">2</text>
<text x="1515.5" y="1380.44" font-size="18.6" text-anchor="middle">3</text>
<text x="1576.6" y="1164.74" font-size="18.6" text-anchor="middle" class="w">55</text>
<text x="1576.6" y="1260.24" font-size="18.6" text-anchor="middle" class="w">330</text>
<text x="1576.6" y="1339.44" font-size="18.6" text-anchor="middle" class="w">31</text>
<text x="1576.6" y="1363.24" font-size="18.6" text-anchor="middle">33</text>
<text x="1576.6" y="1382.54" font-size="18.6" text-anchor="middle" class="w">35</text>
<polygon points="1600.5,1126.6 1619.8,1117.3 1619.8,1135.9" fill="#000"/>
<line x1="1618.8" y1="1126.6" x2="1627.5" y2="1126.6" stroke="#000" stroke-width="3.7"/>
<text x="1639.3" y="1136.8" font-size="26" letter-spacing="0.25">Total</text>
<text x="1281" y="1260" font-size="28.2" text-anchor="middle" transform="rotate(-90 1281 1260)">Frequency</text>
<text x="1390.2" y="1390.2" font-size="18.75" text-anchor="end" transform="rotate(-90 1390.2 1390.2)"><tspan font-style="italic">BRCA1</tspan></text>
<text x="1412.8" y="1390.2" font-size="18.75" text-anchor="end" transform="rotate(-90 1412.8 1390.2)">Mutant</text>
<text x="1450.5" y="1390.2" font-size="18.75" text-anchor="end" transform="rotate(-90 1450.5 1390.2)"><tspan font-style="italic">BRCA2</tspan></text>
<text x="1473.1" y="1390.2" font-size="18.75" text-anchor="end" transform="rotate(-90 1473.1 1390.2)">Mutant</text>
<text x="1510.5" y="1390.2" font-size="18.75" text-anchor="end" transform="rotate(-90 1510.5 1390.2)">Non-<tspan font-style="italic">BRCA1/2</tspan></text>
<text x="1533" y="1390.2" font-size="18.75" text-anchor="end" transform="rotate(-90 1533 1390.2)">Genes Mutant</text>
<text x="1568.8" y="1390.2" font-size="18.75" text-anchor="end" transform="rotate(-90 1568.8 1390.2)">HBOC Genes</text>
<text x="1591.5" y="1390.2" font-size="18.75" text-anchor="end" transform="rotate(-90 1591.5 1390.2)">Wildtype</text>
<rect x="1622.3" y="1162.3" width="25.7" height="15.8" fill="#ff2600" stroke="#ff0000" stroke-width="1"/>
<text x="1660.8" y="1176.97" font-size="18.9">Triple Negative</text>
<rect x="1621.8" y="1205.9" width="26.7" height="16.8" fill="#008f00"/>
<text x="1660.8" y="1221.07" font-size="18.9">Luminal</text>
<rect x="1621.8" y="1250" width="26.7" height="16.8" fill="#0433ff"/>
<text x="1660.8" y="1265.17" font-size="18.9">Luminal-HER2</text>
<rect x="1621.8" y="1294.1" width="26.7" height="16.8" fill="#00fa92"/>
<text x="1660.8" y="1309.27" font-size="18.9">Luminal-Unknown</text>
<rect x="1621.8" y="1338.2" width="26.7" height="16.8" fill="#ff9300"/>
<text x="1660.8" y="1353.37" font-size="18.9">HER2</text>
</svg>
</body>
</html>
